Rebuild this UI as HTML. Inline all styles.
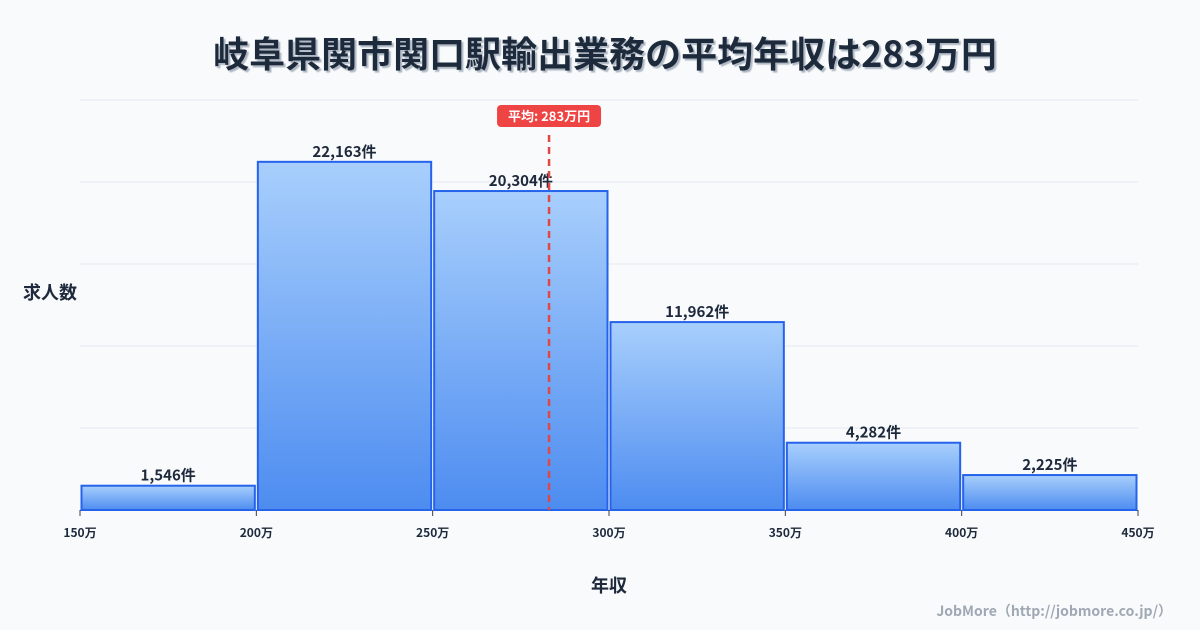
<!DOCTYPE html>
<html><head><meta charset="utf-8"><style>
body{margin:0;background:#f8fafc;}
svg{display:block;font-family:"Noto Sans CJK JP","Liberation Sans",sans-serif;}
</style></head><body>
<svg id="c" width="1200" height="630">
<defs><linearGradient id="g" x1="0" y1="0" x2="0" y2="1"><stop offset="0" stop-color="#a8cffc"/><stop offset="1" stop-color="#4d8cf0"/></linearGradient>
<filter id="sh"><feDropShadow dx="2" dy="2" stdDeviation="0.5" flood-color="#9aa5b4" flood-opacity="0.8"/></filter></defs>
<text x="605" y="67" text-anchor="middle" font-size="36" font-weight="bold" fill="#1e293b" filter="url(#sh)">岐阜県関市関口駅輸出業務の平均年収は283万円</text>
<g id="grid"></g><g id="bars"></g><g id="axis"></g><g id="mean"></g>
<text x="50" y="299" text-anchor="middle" font-size="18" font-weight="bold" fill="#1e293b">求人数</text>
<text x="609" y="592" text-anchor="middle" font-size="18" font-weight="bold" fill="#1e293b">年収</text>
<text x="1172" y="616" text-anchor="end" font-size="14" font-weight="bold" fill="#a0a8b4">JobMore（http://jobmore.co.jp/）</text>
</svg>
<script>
const binStarts=[150,200,250,300,350,400];
const binWidth=50;
const counts=[1546,22163,20304,11962,4282,2225];
const xTicks=[150,200,250,300,350,400,450];
const meanValue=283;
const NS="http://www.w3.org/2000/svg";
const x0=80,x1=1138,xmin=150,xmax=450,yb=510,yt=100;
const ymax=Math.max(...counts)*1.1776;
const X=v=>x0+(v-xmin)/(xmax-xmin)*(x1-x0);
const Y=v=>yb-v/ymax*(yb-yt);
function mk(t,a,p){const e=document.createElementNS(NS,t);for(const k in a)e.setAttribute(k,a[k]);p.appendChild(e);return e;}
const grid=document.getElementById('grid'),bars=document.getElementById('bars'),axis=document.getElementById('axis'),mean=document.getElementById('mean');
for(let i=0;i<=5;i++){const y=yb-i*(yb-yt)/5;const l=mk('line',{x1:x0,x2:x1,y1:y,y2:y,stroke:'#e5e9ef','stroke-width':1},grid);

}
counts.forEach((c,i)=>{const xa=X(binStarts[i])+1.5,xb=X(binStarts[i]+binWidth)-1.5,y=Y(c);
const r=mk('rect',{x:xa,y:y,width:xb-xa,height:yb-y,fill:'url(#g)',stroke:'#2563eb','stroke-width':2},bars);


const t=mk('text',{x:(xa+xb)/2,y:y-5,'text-anchor':'middle','font-size':15,'font-weight':'bold',fill:'#1e293b'},bars);t.textContent=c.toLocaleString('en-US')+'件';

});
xTicks.forEach(v=>{const x=X(v);mk('line',{x1:x,x2:x,y1:yb,y2:yb+6,stroke:'#334155','stroke-width':1},axis);
const t=mk('text',{x:x,y:yb+27,'text-anchor':'middle','font-size':12,'font-weight':'bold',fill:'#1e293b'},axis);t.textContent=v+'万';

});
const mx=X(meanValue);
const ml=mk('line',{x1:mx,x2:mx,y1:135,y2:yb,stroke:'#e04848','stroke-width':2.5,'stroke-dasharray':'7,5'},mean);


const bx=mk('rect',{x:mx-52,y:105,width:104,height:22,rx:4,fill:'#ef4444'},mean);


const mt=mk('text',{x:mx,y:121,'text-anchor':'middle','font-size':13,'font-weight':'bold',fill:'#fff'},mean);mt.textContent='平均: '+meanValue+'万円';


</script>
</body></html>
